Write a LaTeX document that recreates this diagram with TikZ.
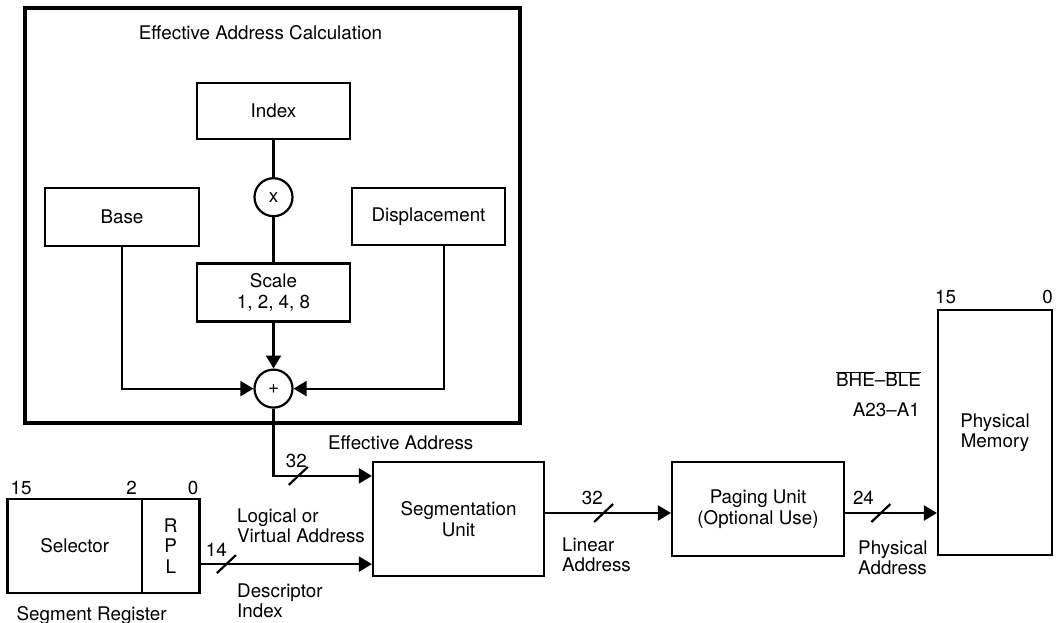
\documentclass[tikz,border=0pt]{standalone}
\usepackage{fontspec}
\setmainfont{TeX Gyre Heros}
\usetikzlibrary{positioning,arrows.meta,calc}

\begin{document}
\begin{tikzpicture}[
  x=1pt, y=-1pt,
  font=\fontsize{18.8}{20.5}\selectfont,
  >={Triangle[length=13pt,width=15pt]},
  block/.style={draw, line width=2.2pt, inner sep=2pt, align=center},
  op/.style={draw, circle, line width=2.2pt, minimum size=38pt, inner sep=0pt},
  frame/.style={draw, line width=4.5pt, inner sep=0pt},
  txt/.style={inner sep=1pt, align=left},
  num/.style={inner sep=1pt},
  wire/.style={line width=2.2pt},
  arr/.style={wire, ->},
  pics/bus/.style={code={\draw[line width=2.2pt, -] (-9.5,9) -- (9.5,-9);}},
]
\useasboundingbox (0,0) rectangle (1062,623);

% Effective address calculation
\node[frame, minimum width=495pt, minimum height=415pt] (eac) at (272.5,215.5) {};
\node[txt] (eactitle) at (260.5,33) {Effective Address Calculation};

\node[block, minimum width=153pt, minimum height=56pt] (index) at (273.5,111) {Index};
\node[op, below=37pt of index] (mul) {x};
\node[block, minimum width=153pt, minimum height=58pt, below=45pt of mul] (scale) {Scale\\1, 2, 4, 8};
\node[op, below=46pt of scale] (add) {+};
\node[block, minimum width=154pt, minimum height=58pt] (base) at (122,217) {Base};
\node[block, minimum width=153pt, minimum height=57pt] (disp) at (428.5,216.5) {Displacement};

% Address path
\node[block, minimum width=171pt, minimum height=114pt] (seg) at (458.5,519) {Segmentation\\Unit};
\node[block, minimum width=172pt, minimum height=94pt] (paging) at (758,509) {Paging Unit\\(Optional Use)};
\node[block, minimum width=114pt, minimum height=245pt] (mem) at (995,432.5) {Physical\\Memory};

% Segment register
\node[block, outer sep=0pt, minimum width=134.5pt, minimum height=94pt] (sel) at (74.75,546) {Selector};
\node[block, outer sep=0pt, minimum width=57.5pt, minimum height=94pt, right=0pt of sel] (rpl) {R\\P\\L};

\coordinate (effin) at ($(seg.north west)+(0,15)$);
\coordinate (selin) at ($(seg.south west)+(0,-13)$);
\coordinate (linin) at ($(paging.west)+(0,4)$);

% Edges
\draw[wire] (index) -- (mul);
\draw[wire] (mul) -- (scale);
\draw[arr] (scale) -- (add);
\draw[arr] (base.south) |- (add.west);
\draw[arr] ($(disp.south)+(15.5,0)$) |- (add.east);
\draw[arr] (add.south) |- (effin) pic[pos=0.626]{bus} node[num, pos=0.616, above=6pt] {32};
\draw[arr] (rpl.east |- selin) -- (selin) pic[pos=0.156]{bus} node[num, pos=0.098, above=6pt] {14};
\draw[arr] (seg.east |- linin) -- (linin) pic[pos=0.465]{bus} node[num, pos=0.375, above=6pt] {32};
\draw[arr] (paging.east |- linin) -- (mem.west |- linin) pic[pos=0.39]{bus} node[num, pos=0.2, above=6pt] {24};

% Labels
\node[txt, anchor=west] (efflbl) at (327,443) {Effective Address};
\node[txt, anchor=west] (loglbl) at (236,526) {Logical or\\Virtual Address};
\node[txt, anchor=west] (desclbl) at (236,601) {Descriptor\\Index};
\node[txt, anchor=west] (linlbl) at (561,555) {Linear\\Address};
\node[txt, anchor=west] (physlbl) at (857,558) {Physical\\Address};
\node[txt, anchor=east] (bhelbl) at (922,379) {$\overline{\mbox{BHE}}$--$\overline{\mbox{BLE}}$};
\node[txt, anchor=east] (addrlbl) at (921,410) {A23--A1};
\node[txt, below right=12pt and 8pt of sel.south west] (segreglbl) {Segment Register};

% Bit numbers
\node[num, above right=3.5pt and 2pt of sel.north west] (b15) {15};
\node[num, above left=3.5pt and 4pt of sel.north east] (b2) {2};
\node[num, above left=3.5pt and 0pt of rpl.north east] (b0) {0};
\node[num, above right=3.5pt and -3pt of mem.north west] (m15) {15};
\node[num, above left=3.5pt and -1pt of mem.north east] (m0) {0};
\end{tikzpicture}
\end{document}
